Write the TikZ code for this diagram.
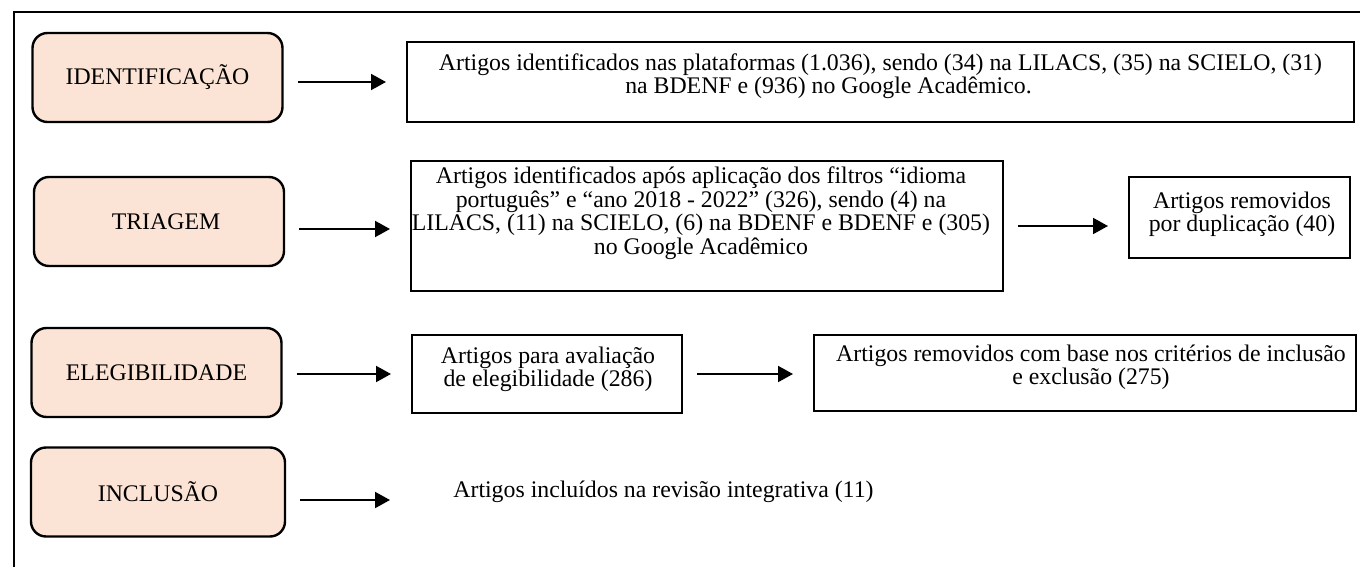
\documentclass[tikz,border=0pt]{standalone}
\usepackage{fontspec}
\setmainfont{Liberation Serif}
\usetikzlibrary{arrows.meta}
\definecolor{pessego}{HTML}{FBE4D5}

\begin{document}
\begin{tikzpicture}[x=0.5pt,y=-0.5pt,
    etapa/.style={draw, line width=1.2pt, rounded corners=7.5pt, fill=pessego,
      minimum width=125pt, minimum height=44.5pt, inner sep=0pt,
      font=\fontsize{11.9}{11.25}\selectfont},
    caixa/.style={draw, line width=1pt, inner sep=0pt},
    texto/.style={align=center, inner sep=0pt, font=\fontsize{11.9}{11.4}\selectfont},
    seta/.style={line width=1pt, -{Triangle[length=7.5pt,width=8pt]},
      shorten <=7pt, shorten >=10pt}]
      \useasboundingbox (0,0) rectangle (1360,567);
      % moldura
      \draw [line width=1pt] (13.5,567) -- (13.5,12) -- (1360,12);
      % etapas
      \node [etapa] (ident) at (157.5,77.5) {IDENTIFICAÇÃO};
      \node [etapa] (triag) at (159,221.5) {\hspace*{7pt}TRIAGEM};
      \node [etapa] (eleg) at (156.5,372.5) {ELEGIBILIDADE};
      \node [etapa, minimum width=127pt] (incl) at (158,492) {INCLUSÃO};
      % caixas
      \node [caixa, minimum width=473.5pt, minimum height=40pt] (bases) at (880.5,82) {};
      \node [texto] (tbases) at (880.5,76.5) {Artigos identificados nas plataformas (1.036), sendo (34) na LILACS, (35) na SCIELO, (31)\\
        na BDENF e (936) no Google Acadêmico.\hspace*{52pt}};
      \node [caixa, minimum width=296pt, minimum height=65pt] (filtros) at (707,226) {};
      \node [texto, font=\fontsize{11.9}{10.6}\selectfont] (tfiltros) at (701,213) {Artigos identificados após aplicação dos filtros “idioma\\
        português” e “ano 2018 - 2022” (326), sendo (4) na\\
        LILACS, (11) na SCIELO, (6) na BDENF e BDENF e (305)\\
        no Google Acadêmico};
      \node [caixa, minimum width=110.5pt, minimum height=40.5pt] (dup) at (1239.5,217.5) {};
      \node [texto] (tdup) at (1242,214.5) {Artigos removidos\\ por duplicação (40)};
      \node [caixa, minimum width=135pt, minimum height=39pt] (avalia) at (547,374) {};
      \node [texto] (tavalia) at (548,369.5) {Artigos para avaliação\\ de elegibilidade (286)};
      \node [caixa, minimum width=271pt, minimum height=38pt] (crit) at (1085,373) {};
      \node [texto] (tcrit) at (1091,367.5) {Artigos removidos com base nos critérios de inclusão\\ e exclusão (275)};
      \node [texto, anchor=west] (final) at (453,492) {Artigos incluídos na revisão integrativa (11)};
      % setas
      \draw [seta] (ident.east |- bases.west) -- (bases.west);
      \draw [seta] ([yshift=-1.5pt]triag.east |- filtros.west) -- ([yshift=-1.5pt]filtros.west);
      \draw [seta] (filtros.east) -- (filtros.east -| dup.west);
      \draw [seta] (eleg.east |- avalia.west) -- (avalia.west);
      \draw [seta] (avalia.east) -- (avalia.east -| crit.west);
      \draw [seta, shorten >=31.5pt] ([yshift=-4pt]incl.east) -- ([yshift=-4pt]incl.east -| final.west);
\end{tikzpicture}
\end{document}
